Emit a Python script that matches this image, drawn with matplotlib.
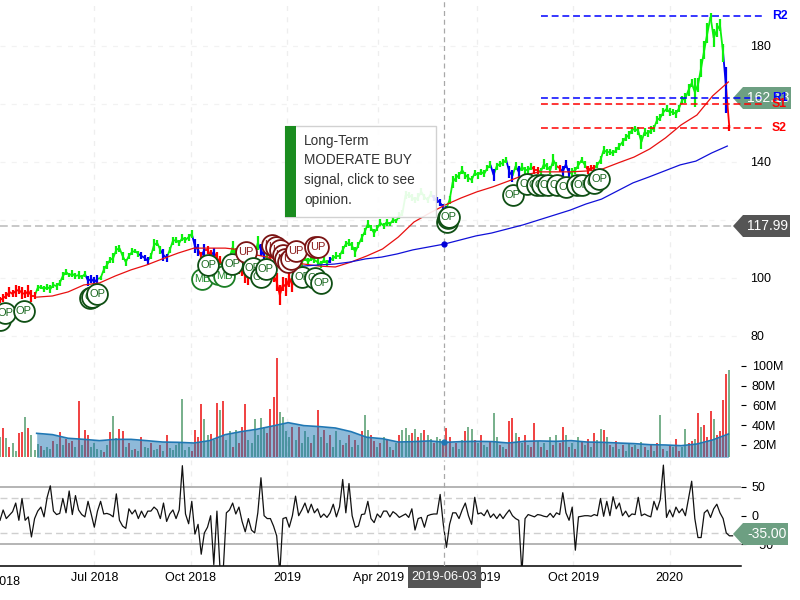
#!/usr/bin/env python
# -*-coding:utf-8 -*-
import matplotlib
matplotlib.use('Agg')
import matplotlib.pyplot as plt
import matplotlib.dates as mdates
import pandas as pd
from matplotlib.collections import LineCollection
from matplotlib.patches import Polygon, Rectangle

plt.rcParams['font.family'] = ['Liberation Sans', 'DejaVu Sans']

############################# Data #############################

c_start = '2018-04-02'

# Price, one value every 3 days
v_price = [
    92.4, 93.1, 93.8, 95.2, 94.5, 95.5, 95.9, 94.8, 94.5, 95.5,
    93.8, 93.8, 96.6, 96.9, 96.2, 96.9, 96.2, 97.6, 97.2, 98.3,
    100.7, 102.1, 101.0, 101.4, 100.7, 101.0, 100.3, 101.4, 99.0, 99.7,
    98.6, 99.7, 100.0, 102.8, 104.5, 106.2, 106.9, 109.7, 110.3, 107.6,
    105.5, 107.6, 109.0, 109.3, 108.3, 107.6, 106.9, 105.9, 107.6, 111.4,
    112.1, 109.7, 107.9, 106.9, 109.7, 112.8, 113.1, 112.1, 113.8, 113.1,
    114.1, 115.2, 111.0, 109.7, 107.6, 109.7, 109.7, 107.6, 109.0, 106.9,
    105.5, 104.5, 105.5, 106.9, 110.7, 107.9, 103.4, 102.8, 100.7, 100.0,
    102.8, 107.9, 112.1, 109.7, 107.6, 106.9, 105.5, 101.0, 98.6, 94.1,
    97.9, 96.9, 100.0, 97.6, 100.0, 102.8, 105.5, 106.9, 105.5, 106.9,
    106.2, 105.5, 104.5, 106.2, 105.1, 106.2, 106.9, 107.6, 107.6, 109.7,
    111.7, 112.1, 111.0, 109.0, 111.4, 113.8, 115.9, 118.6, 117.2, 115.5,
    117.2, 119.0, 118.0, 119.3, 118.6, 120.0, 119.7, 121.4, 122.4, 128.6,
    128.6, 127.9, 126.9, 127.9, 129.7, 127.9, 126.9, 128.9, 127.6, 126.9,
    125.9, 124.5, 124.1, 126.9, 133.1, 134.5, 135.5, 137.2, 135.5, 134.5,
    133.8, 136.2, 135.5, 136.6, 135.9, 137.9, 139.0, 135.5, 138.6, 139.3,
    139.7, 140.7, 136.6, 135.2, 138.6, 136.6, 138.3, 137.2, 137.2, 138.3,
    137.2, 137.2, 136.6, 139.3, 138.3, 137.2, 140.7, 138.6, 137.9, 136.6,
    139.3, 135.9, 136.6, 137.2, 139.0, 140.7, 139.0, 137.2, 137.9, 137.9,
    139.0, 140.7, 144.1, 143.4, 143.4, 143.1, 144.1, 145.5, 146.9, 148.3,
    149.3, 151.0, 151.4, 150.7, 146.9, 150.3, 149.7, 151.0, 151.7, 154.5,
    155.2, 157.2, 158.3, 157.2, 157.2, 156.6, 158.6, 161.4, 162.0, 164.8,
    167.2, 164.1, 166.6, 172.4, 178.6, 184.5, 190.0, 182.8, 185.5, 187.2,
    177.6, 164.8, 151.7]

# Half of the day range around each price value
v_price_swing = [
    1.0, 1.5, 1.2, 1.8, 1.2, 2.0, 1.5, 2.2, 1.5, 2.0,
    2.0, 1.2, 1.0, 0.8, 1.2, 1.0, 1.5, 1.0, 1.2, 1.0,
    1.5, 1.0, 0.8, 1.2, 1.0, 1.5, 0.8, 1.0, 1.8, 1.5,
    1.8, 1.5, 0.8, 1.2, 1.5, 1.0, 1.8, 1.5, 1.2, 1.5,
    1.2, 1.0, 1.2, 0.8, 1.0, 1.2, 1.0, 1.5, 1.0, 2.0,
    1.0, 1.5, 2.0, 1.5, 1.0, 1.5, 1.2, 1.0, 1.2, 1.0,
    1.2, 1.5, 2.5, 2.0, 1.5, 2.0, 1.5, 2.0, 1.5, 2.0,
    2.0, 1.5, 2.0, 1.5, 2.0, 2.5, 2.0, 2.0, 2.5, 2.5,
    3.0, 2.0, 2.5, 2.0, 1.5, 2.0, 2.5, 2.5, 3.0, 3.5,
    2.5, 3.0, 3.0, 2.5, 2.5, 2.0, 2.0, 1.0, 1.5, 1.0,
    1.0, 1.5, 1.2, 1.0, 1.2, 1.0, 1.0, 1.2, 1.0, 1.5,
    1.0, 1.2, 1.5, 1.8, 1.0, 1.5, 1.2, 1.5, 1.0, 1.5,
    1.0, 1.2, 1.0, 1.2, 0.8, 1.0, 0.8, 1.2, 1.0, 1.5,
    1.0, 1.2, 1.0, 1.5, 1.2, 1.0, 1.2, 1.0, 1.0, 1.0,
    1.2, 1.0, 0.8, 1.5, 2.0, 1.5, 1.2, 1.5, 1.2, 1.5,
    1.2, 1.0, 1.2, 1.0, 1.2, 1.0, 1.2, 2.0, 1.2, 1.0,
    1.2, 1.0, 2.0, 2.2, 1.5, 2.0, 1.5, 1.2, 1.5, 1.2,
    1.5, 1.2, 1.5, 1.8, 1.2, 1.5, 2.0, 1.5, 1.2, 2.0,
    1.5, 2.0, 1.5, 1.2, 1.5, 1.0, 1.2, 1.5, 1.0, 1.2,
    1.0, 1.5, 1.5, 1.2, 1.0, 1.2, 1.0, 1.2, 1.5, 1.2,
    1.5, 1.2, 1.0, 1.5, 2.5, 1.5, 1.2, 1.5, 1.2, 1.5,
    1.2, 1.5, 1.2, 1.5, 1.0, 1.5, 1.2, 1.5, 1.8, 2.0,
    1.5, 5.0, 2.5, 3.0, 3.0, 3.5, 1.5, 3.0, 2.5, 2.0,
    3.0, 8.0, 1.0]

# Trend colour of each price step (g, r, b)
c_price_trend = ('rrrrrrrrrr' 'rrgggggggg' 'ggggggggbb' 'bbgggggggg' 'gggggbbbgg'
                 'ggbbgggggg' 'ggbbrbrrbr' 'rrrrggrrrr' 'rrgbbgrrrr' 'rrrrrrgggg'
                 'gggggbgggg' 'gggggggggg' 'gggggggggg' 'ggggggggbb' 'bbbggggggg'
                 'gggggggbgg' 'ggbbgbgggg' 'rrggggggrb' 'bbgggggrrr' 'gggggggggg'
                 'gggggggggg' 'gggggggggg' 'gggggggggg' 'gbr')

# Moving averages, one value every 15 days
c_sma50_start = '2018-05-07'
v_sma50 = [
    93.4, 93.8, 95.2, 97.6, 98.3, 100.7, 102.8, 104.5, 106.6, 108.6,
    110.3, 110.3, 110.3, 109.7, 107.9, 106.9, 105.5, 104.8, 104.1, 103.8,
    105.5, 107.6, 110.0, 114.1, 119.3, 122.4, 125.2, 127.6, 129.7, 131.4,
    133.4, 135.5, 136.6, 136.6, 136.6, 136.9, 137.6, 139.7, 141.7, 144.5,
    148.3, 152.8, 156.2, 162.8, 167.6]

c_sma200_start = '2019-01-16'
v_sma200 = [
    104.1, 104.5, 104.8, 105.5, 106.6, 107.2, 108.3, 109.7, 110.7, 111.7,
    113.1, 114.5, 115.5, 116.9, 118.3, 120.0, 121.7, 123.4, 125.5, 127.2,
    130.0, 132.8, 134.8, 136.9, 139.0, 140.3, 143.1, 145.5]

# Volume in millions, one value every 3 days
v_volume = [
    28, 37, 27, 18, 22, 14, 32, 33, 48, 37,
    30, 15, 21, 19, 15, 18, 16, 24, 21, 33,
    20, 26, 22, 24, 18, 65, 20, 35, 30, 18,
    22, 16, 15, 13, 20, 33, 49, 27, 36, 34,
    18, 22, 15, 16, 14, 28, 18, 17, 22, 15,
    16, 20, 14, 30, 17, 15, 20, 23, 67, 15,
    18, 14, 35, 28, 62, 46, 30, 31, 25, 63,
    55, 65, 25, 34, 18, 35, 22, 38, 62, 25,
    22, 46, 30, 47, 38, 32, 56, 69, 108, 53,
    48, 34, 28, 38, 25, 38, 22, 34, 28, 22,
    30, 55, 28, 35, 22, 30, 18, 34, 25, 20,
    22, 30, 18, 25, 20, 34, 50, 35, 30, 24,
    18, 22, 28, 25, 18, 15, 22, 30, 35, 37,
    30, 32, 36, 28, 32, 35, 30, 26, 22, 28,
    26, 24, 37, 28, 18, 22, 16, 25, 34, 38,
    36, 25, 22, 30, 20, 18, 24, 52, 28, 20,
    18, 16, 44, 47, 32, 28, 22, 30, 20, 18,
    42, 24, 18, 22, 15, 28, 20, 30, 22, 38,
    30, 18, 22, 16, 28, 24, 20, 26, 18, 32,
    25, 36, 35, 28, 20, 18, 24, 16, 20, 14,
    22, 18, 20, 16, 23, 18, 15, 20, 14, 22,
    50, 16, 14, 20, 18, 26, 14, 18, 36, 22,
    24, 26, 52, 38, 40, 28, 54, 46, 30, 34,
    66, 92, 96]

c_volume_trend = ('grgrggrrgr' 'gggrgggrgr' 'grrrgrgrrg' 'gggrgrggrr' 'grgrgrggrg'
                  'grgrgggggg' 'grrrrggrgr' 'grggrgrrrg' 'gggggrrrrg' 'gggrgrgggr'
                  'grgrgrgggr' 'grgrgrggrr' 'grgrgrgrgg' 'grgrgrggrg' 'grrrgrggrg'
                  'grgrggrggr' 'grrrgrgrgr' 'rgrgrgrgrr' 'grgrgrgrgr' 'ggrgrgrgrg'
                  'grgrgrgrgr' 'grgrgrrggr' 'rgrgrrrgrr' 'rrg')

c_volume_ma_start = '2018-05-07'
v_volume_ma = [
    31.8, 30.5, 26.8, 25.7, 24.4, 25.7, 25.7, 24.4, 23.0, 22.7,
    22.0, 24.4, 30.5, 33.5, 35.9, 39.2, 42.6, 39.6, 38.6, 37.2,
    33.5, 27.8, 26.4, 23.0, 23.4, 24.1, 22.7, 23.4, 23.7, 23.4,
    22.0, 23.7, 24.1, 23.7, 24.4, 23.0, 22.7, 22.0, 21.4, 20.3,
    20.0, 19.3, 21.0, 25.1, 31.1]

# Oscillator, one value every 3 days
v_osc = [
    -8, 10, -5, 1, 7, 22, -8, 30, -8, -2,
    -37, -5, 8, 15, -2, 32, 52, 8, 2, 4,
    30, 5, 43, 2, 35, 10, 2, -2, 25, 3,
    -20, 8, 25, 3, 4, 2, -2, 38, -8, -18,
    -22, 12, 3, 10, -5, 8, -3, 8, 8, 15,
    10, -5, 22, -10, 3, 10, -5, 10, 87, 3,
    -14, 25, -32, -15, -67, -30, -20, 0, -85, 8,
    -95, -95, 5, 10, 22, 3, 15, -10, -28, -5,
    -25, -30, 5, 66, 0, -5, -5, -18, -35, -100,
    -5, -3, -20, 0, 34, 0, 10, 22, 5, 20,
    5, 12, -3, 3, -3, 5, 20, -2, 15, 63,
    5, 56, 0, -20, -18, 2, 3, 25, -5, -12,
    3, -3, 8, 8, -2, 7, 3, -3, 0, 3,
    -3, 12, -25, -5, -3, -20, 0, 2, 3, 3,
    37, -15, -55, -15, 5, 5, -5, 10, 22, 0,
    -15, 32, 3, 5, 0, 10, -3, 3, -5, 3,
    -5, 3, 10, 0, -5, -8, -100, -5, 2, 0,
    -2, 2, 1, -1, -2, 4, -3, 5, 2, 40,
    5, -8, 15, -60, -2, -1, 0, 0, -1, 2,
    0, 30, -1, 25, 0, 33, 12, 22, 0, 8,
    -2, 3, 2, 32, 0, 3, 0, -2, 25, 10,
    28, 88, -3, 10, -2, 15, 5, 12, 0, 30,
    60, -5, -38, -38, 5, 10, -3, 12, 20, 5,
    -5, -30, -35, -35]

# Opinion bubbles: days after the start of the chart, price, label
v_signal_day = [0, 4.8, 22.9, 85.9, 87.8, 92.6, 192.7, 208, 213.7, 198.5, 221.4, 234.7,
                241.4, 249, 253.8, 288.2, 300.6, 306.3,
                259.5, 263.4, 267.2, 270, 272, 274.8, 277.7, 282.4, 300.6, 303.4,
                426.5, 427.5, 428.4, 489.5, 502.9, 512.4, 517.2, 522.9, 531.5, 540.1,
                550.6, 555.3, 566.8, 571.6]
v_signal_price = [85.5, 87.9, 88.6, 93.1, 93.4, 94.5, 99.7, 101.4, 100.7, 104.5, 104.8, 109,
                  103.4, 100.3, 103.1, 100.3, 100, 98.3,
                  111.4, 110.7, 109.7, 107.9, 106.6, 105.5, 106.6, 109.3, 110.7, 110.7,
                  119.3, 120.7, 121, 128.6, 132.4, 132.1, 132.1, 132.1, 132.1, 131.4,
                  132.1, 132.1, 132.8, 134.1]
v_signal_label = ['OP', 'OP', 'OP', 'OP', 'OP', 'OP', 'MB', 'MB', 'MB', 'OP', 'OP', 'UP',
                  'OP', 'OP', 'OP', 'OP', 'OP', 'OP',
                  'UP', 'UP', 'UP', 'UP', 'UP', 'UP', 'UP', 'UP', 'UP', 'UP',
                  'OP', 'OP', 'OP', 'OP', 'OP', 'OP', 'OP', 'OP', 'OP', 'OP',
                  'OP', 'OP', 'OP', 'OP']

# Support and resistance
c_pivot_start = '2019-08-31'
c_pivot_end = '2020-03-31'
v_pivot_name = ['R2', 'R1', 'S1', 'S2']
v_pivot_value = [190.5, 161.9, 160.0, 151.7]
v_pivot_colour = ['#0000ff', '#0000ff', '#ff0000', '#ff0000']

# The original axis skips closed days, so a few dates are nudged to land on its ticks
v_tick_date = ['2018-07-01', '2018-10-01', '2019-01-01', '2019-03-29', '2019-07-01', '2019-10-01', '2020-01-01']
v_tick_label = ['Jul 2018', 'Oct 2018', '2019', 'Apr 2019', 'Jul 2019', 'Oct 2019', '2020']
c_cursor_date = '2019-05-31'
c_cursor_label = '2019-06-03'
c_last_close = 117.99

v_opinion = ['Long-Term', 'MODERATE BUY', 'signal, click to see', 'opinion.']

############################# Layout helpers #############################

c_fig_w, c_fig_h = 800, 600
c_right = 741
c_px_per_day = 1.048


def add_panel(y_top, y_bottom):
    ax = fig.add_axes([0, 1 - y_bottom / c_fig_h, c_right / c_fig_w, (y_bottom - y_top) / c_fig_h])
    ax.set_xlim(x_start, x_start + c_right / c_px_per_day)
    ax.set_xticks(x_ticks)
    ax.set_xticklabels([])
    ax.tick_params(axis='x', length=0)
    ax.yaxis.tick_right()
    for side in ['top', 'bottom', 'left', 'right']:
        ax.spines[side].set_visible(False)
    ax.grid(axis='x', color='#eeeeee', linestyle=(0, (4, 5)), linewidth=0.9)
    ax.set_axisbelow(True)
    ax.axvline(x_cursor, color='#a8a8a8', linestyle=(0, (4, 3)), linewidth=0.9, zorder=6)
    return ax


def dates_from(start, freq_days, n):
    return mdates.date2num(pd.date_range(start, periods=n, freq=f'{freq_days}D'))


x_start = mdates.date2num(pd.Timestamp(c_start))
x_ticks = mdates.date2num(pd.to_datetime(v_tick_date))
x_cursor = mdates.date2num(pd.Timestamp(c_cursor_date))

fig = plt.figure(figsize=(c_fig_w / 100, c_fig_h / 100), dpi=100, facecolor='white')

############################# Price panel #############################

ax_price = add_panel(0, 348)
ax_price.set_ylim(75.86, 195.86)
ax_price.set_yticks([80, 100, 120, 140, 160, 180])
ax_price.tick_params(axis='y', length=0, pad=6.5, labelsize=9)
ax_price.grid(axis='y', color='#f2f2f2', linestyle=(0, (4, 5)), linewidth=0.9)
ax_price.axhline(c_last_close, color='#c8c8c8', linestyle=(0, (4, 2)), linewidth=1.4, zorder=1)

x_price = dates_from(c_start, 3, len(v_price))
trend_colours = {'g': '#0cf00c', 'r': '#ff0000', 'b': '#0000f0'}
segments = [[(x_price[i], v_price[i]), (x_price[i + 1], v_price[i + 1])] for i in range(len(v_price) - 1)]
colours = [trend_colours[c_price_trend[i + 1]] for i in range(len(v_price) - 1)]
ax_price.add_collection(LineCollection(segments, colors=colours, linewidths=1.3, zorder=2))

# Day ranges give the band its jagged look
price_low = [p - s for p, s in zip(v_price, v_price_swing)]
price_high = [p + s for p, s in zip(v_price, v_price_swing)]
ax_price.vlines(x_price, price_low, price_high, colors=[trend_colours[c] for c in c_price_trend],
                linewidth=1.6, zorder=2)

ax_price.plot(dates_from(c_sma50_start, 15, len(v_sma50)), v_sma50, color='#e81010', linewidth=0.9, zorder=3)
ax_price.plot(dates_from(c_sma200_start, 15, len(v_sma200)), v_sma200, color='#1010d8', linewidth=0.9, zorder=3)
ax_price.plot([x_cursor], [111.7], 'o', color='#0000d8', markersize=3.5, zorder=7)

signal_styles = {'OP': ('#0f4f14', '#1c6a22'), 'MB': ('#1b7f25', '#1f8a2a'), 'UP': ('#7a1414', '#8a1a1a')}
for i in range(len(v_signal_day)):
    edge, text_colour = signal_styles[v_signal_label[i]]
    ax_price.plot([x_start + v_signal_day[i]], [v_signal_price[i]], 'o', markersize=15, markerfacecolor='white',
                  markeredgecolor=edge, markeredgewidth=1.3, zorder=8 + i * 0.01)
    ax_price.text(x_start + v_signal_day[i], v_signal_price[i], v_signal_label[i], color=text_colour, fontsize=8,
                  ha='center', va='center', zorder=8 + i * 0.01, clip_on=True)

############################# Volume panel #############################

ax_vol = add_panel(350, 457)
ax_vol.set_ylim(7.84, 116.2)
ax_vol.set_yticks([20, 40, 60, 80, 100])
ax_vol.set_yticklabels(['20M', '40M', '60M', '80M', '100M'])
ax_vol.tick_params(axis='y', length=3.6, width=0.8, pad=4.3, labelsize=9)

x_volume = dates_from(c_start, 3, len(v_volume))
volume_colours = {'g': '#5fa277', 'r': '#ee2020'}
ax_vol.vlines(x_volume, 0, v_volume, colors=[volume_colours[c] for c in c_volume_trend], linewidth=1.2, zorder=2)

x_volume_ma = dates_from(c_volume_ma_start, 15, len(v_volume_ma))
ax_vol.fill_between(x_volume_ma, 0, v_volume_ma, color='#1f77b4', alpha=0.5, linewidth=0, zorder=3)
ax_vol.plot(x_volume_ma, v_volume_ma, color='#1f77b4', linewidth=1.2, zorder=4)
ax_vol.plot([x_cursor], [23], 'o', color='#1f77b4', markersize=3.5, zorder=7)

############################# Oscillator panel #############################

ax_osc = add_panel(460, 566)
ax_osc.set_ylim(-87.5, 96.9)
ax_osc.set_yticks([-50, 0, 50])
ax_osc.tick_params(axis='y', length=3.6, width=0.8, pad=4.3, labelsize=9)
ax_osc.spines['bottom'].set_visible(True)
ax_osc.spines['bottom'].set_linewidth(1.1)

for level in [50, -50]:
    ax_osc.axhline(level, color='#b4b4b4', linewidth=1.4, zorder=1)
for level in [30, -30]:
    ax_osc.axhline(level, color='#cfcfcf', linestyle=(0, (5, 3)), linewidth=1, zorder=1)
ax_osc.plot(dates_from(c_start, 3, len(v_osc)), v_osc, color='#111111', linewidth=0.9, zorder=3)

ax_osc.set_xticklabels(v_tick_label, fontsize=9)
ax_osc.tick_params(axis='x', length=0, pad=4)
ax_osc.text(mdates.date2num(pd.Timestamp('2018-03-28')), -0.09, 'Apr 2018', transform=ax_osc.get_xaxis_transform(),
            fontsize=9, ha='center', va='top', clip_on=False)

############################# Overlay in pixels: box, flags, pivots #############################

ax_top = fig.add_axes([0, 0, 1, 1], facecolor='none')
ax_top.set_xlim(0, c_fig_w)
ax_top.set_ylim(c_fig_h, 0)
ax_top.axis('off')

# Opinion box
ax_top.add_patch(Rectangle((285, 126), 151, 91, facecolor='white', edgecolor='#cccccc', linewidth=1, alpha=0.9))
ax_top.add_patch(Rectangle((285, 126), 11, 91, facecolor='#1a8c1f', edgecolor='none'))
for line, y in zip(v_opinion, [141, 160, 180, 200]):
    ax_top.text(304, y, line, fontsize=9.8, color='#333333', ha='left', va='center')

# Price flags
flags = [(98, '162.13', '#6d9f82', 791), (226, '117.99', '#555555', 790), (534, '-35.00', '#6d9f82', 788)]
for y, label, colour, x_end in flags:
    ax_top.add_patch(Polygon([(733, y), (743, y - 11), (x_end, y - 11), (x_end, y + 11), (743, y + 11)],
                             facecolor=colour, edgecolor='none'))
    ax_top.text(747, y, label, fontsize=10, color='white', ha='left', va='center')

# Support and resistance, over the flags
x_pivot = mdates.date2num(pd.to_datetime([c_pivot_start, c_pivot_end]))
for name, value, colour in zip(v_pivot_name, v_pivot_value, v_pivot_colour):
    ax_top.plot(x_pivot, [value, value], color=colour, linestyle=(0, (4.5, 2.5)), linewidth=1.1,
                transform=ax_price.transData, clip_on=False)
    ax_top.text(x_pivot[1] + 7.5, value, name, color=colour, fontsize=8.8, fontweight='bold', ha='left', va='center',
                transform=ax_price.transData, clip_on=False)

# Cursor date
ax_top.add_patch(Rectangle((408, 567), 73, 21, facecolor='#555555', edgecolor='none'))
ax_top.text(444.5, 577, c_cursor_label, fontsize=9.2, color='white', ha='center', va='center')

plt.savefig('out.png', dpi=100)
plt.close(fig)
